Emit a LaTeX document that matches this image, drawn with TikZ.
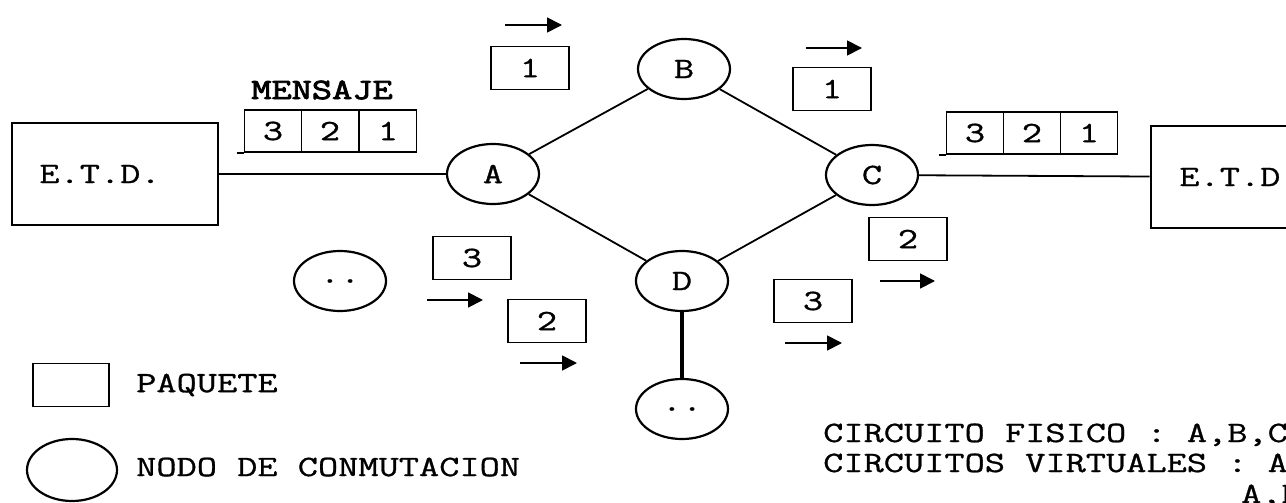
\documentclass[tikz,border=0pt]{standalone}
\usepackage{fontspec}
\newfontfamily\dotfamily[FakeStretch=1.33, FakeBold=1]{Latin Modern Mono}
\newfontfamily\dotbold[FakeStretch=1.33, FakeBold=3]{Latin Modern Mono}
\usepackage{tikz}
\usetikzlibrary{positioning,arrows.meta,shapes.geometric}
\newcommand{\dotfont}{\dotfamily\fontsize{29.5pt}{34pt}\selectfont}

\begin{document}
\begin{tikzpicture}[
  x=1pt, y=-1pt,
  every node/.style={font=\dotfont, inner sep=0pt},
  etd/.style={draw, line width=2.6pt, minimum width=206pt, minimum height=102pt},
  sw/.style={draw, ellipse, line width=2.2pt, minimum width=92pt, minimum height=60pt},
  pkt/.style={draw, line width=1.6pt, minimum width=78pt, minimum height=43pt},
  cell/.style={draw, line width=1.6pt, minimum width=57pt, minimum height=42pt},
  link/.style={line width=1.8pt},
  arr/.style={-{Triangle[length=15pt,width=15pt]}, line width=1.8pt},
]
  \useasboundingbox (0,0) rectangle (1286,503);
  \clip (0,0) rectangle (1286,503);

  % End stations
  \node[etd] (etdL) at (115,174) {E.T.D.\hspace*{30pt}};
  \node[etd, minimum width=178pt] (etdR) at (1240,177) {E.T.D.};

  % Switching nodes
  \node[sw] (A)  at (493,174) {A};
  \node[sw] (B)  at (684,69)  {B};
  \node[sw] (C)  at (872,175) {C};
  \node[sw] (D)  at (682,281) {D};
  \node[sw] (dn) at (682,409) {..};
  \node[sw] (dl) at (340,281) {..};

  % Physical circuit
  \draw[link] (etdL) -- (A);
  \draw[link] (A) -- (B);
  \draw[link] (B) -- (C);
  \draw[link] (A) -- (D);
  \draw[link] (C) -- (D);
  \draw[link] (C) -- (etdR);
  \draw[line width=4.5pt] (D) -- (dn);

  % Message at both ends
  \node[font=\dotbold\fontsize{29.5pt}{34pt}\selectfont] (msg) at (322,90) {MENSAJE};
  \foreach \n/\x in {3/273,2/330,1/388} {
    \node[cell] (ml\n) at (\x,131) {\n};
  }
  \foreach \n/\x in {3/975,2/1032,1/1089} {
    \node[cell] (mr\n) at (\x,133) {\n};
  }
  \draw[link] ([xshift=-7pt]ml3.south west) -- (ml3.south west);
  \draw[link] ([xshift=-7pt]mr3.south west) -- (mr3.south west);

  % Packets in transit
  \node[pkt] (p1a) at (530,68)  {1};
  \node[pkt] (p1b) at (832,89)  {1};
  \node[pkt] (p2c) at (908,239) {2};
  \node[pkt] (p3d) at (813,301) {3};
  \node[pkt] (p3l) at (472,258) {3};
  \node[pkt] (p2l) at (547,321) {2};

  % Direction arrows
  \foreach \nm/\xa/\xb/\y in {a/505/562/25, b/806/862/48, c/880/935/281,
                              d/785/842/343, e/427/483/300, f/520/577/363} {
    \coordinate (\nm0) at (\xa,\y);
    \coordinate (\nm1) at (\xb,\y);
    \draw[arr] (\nm0) -- (\nm1);
  }

  % Legend
  \node[pkt, minimum width=76pt] (legP) at (71,385) {};
  \node[anchor=west] (legPt) at (136,385) {PAQUETE};
  \node[sw, minimum width=90pt, minimum height=62pt] (legN) at (72,470) {};
  \node[anchor=west] (legNt) at (136,467) {NODO DE CONMUTACION};

  % Circuits
  \node[anchor=base west] (cf)  at (823,442)  {CIRCUITO FISICO : A,B,C,D};
  \node[anchor=base west] (cv)  at (823,472)  {CIRCUITOS VIRTUALES : A,B};
  \node[anchor=base west] (cv2) at (1241,503) {A,D};
\end{tikzpicture}
\end{document}
